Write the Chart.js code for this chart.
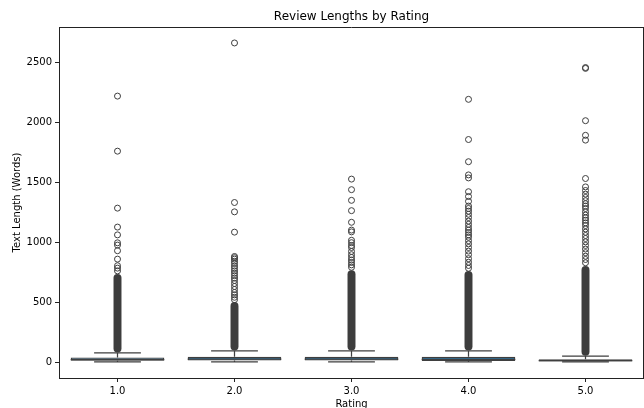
<!DOCTYPE html>
<html>
<head>
<meta charset="utf-8">
<script src="https://cdn.jsdelivr.net/npm/chart.js@4"></script>
<style>
html,body{margin:0;padding:0;overflow:hidden;background:#fff;}
#wrap{width:644px;height:408px;position:relative;}
canvas{display:block;}
</style>
</head>
<body>
<div id="wrap"><canvas id="c" width="644" height="408" style="width:644px;height:408px"></canvas></div>
<script>
// ---- data ----
const categories = ['1.0', '2.0', '3.0', '4.0', '5.0'];
const q1 = [10, 12, 12, 8, 5];
const median = [20, 24, 25, 22, 12];
const q3 = [38, 45, 45, 44, 23];
const whiskerLow = [1, 1, 1, 1, 1];
const whiskerHigh = [77, 94, 94, 94, 50];
// dense runs of overlapping outliers (drawn as a solid band)
const denseLow = [80, 97, 97, 97, 53];
const denseHigh = [735, 500, 765, 760, 800];
// individually visible outliers
const outliers1 = [2217, 1758, 1283, 1125, 1060, 994, 975, 928, 858, 803, 783, 760];
const outliers2 = [2660, 1330, 1252, 1083, 880, 870, 858, 840, 822, 800, 780, 760, 740, 720, 700, 680, 655, 630, 605, 580, 560, 540, 520];
const outliers3 = [1525, 1437, 1348, 1262, 1165, 1100, 1085, 1015, 995, 972, 955, 922, 895, 872, 850, 830, 810, 790];
const outliers4 = [2190, 1855, 1670, 1560, 1535, 1420, 1380, 1340, 1300, 1280, 1258, 1232, 1205, 1175, 1148, 1122, 1100, 1080, 1060, 1040, 1012, 985, 955, 925, 895, 862, 832, 805, 782];
const outliers5 = [2455, 2448, 2012, 1890, 1850, 1530, 1460, 1430, 1400, 1372, 1345, 1320, 1300, 1280, 1252, 1225, 1202, 1182, 1160, 1138, 1110, 1082, 1055, 1030, 1002, 972, 942, 912, 882, 855, 828];
const yTickValues = [0, 500, 1000, 1500, 2000, 2500];
const yTickLabels = ['0', '500', '1000', '1500', '2000', '2500'];
const yMin = -133, yMax = 2793;

const outlierSets = [outliers1, outliers2, outliers3, outliers4, outliers5];
const outlierPoints = [];
outlierSets.forEach((arr, i) => arr.forEach(v => outlierPoints.push({x: categories[i], y: v})));

const LINE = '#3f3f3f';
const FONT = "'DejaVu Sans', sans-serif";

const whiskerPlugin = {
  id: 'whiskers',
  beforeDatasetsDraw(chart) {
    const ctx = chart.ctx, xs = chart.scales.x, ys = chart.scales.y;
    const boxW = xs.width / categories.length * 0.8;
    ctx.save();
    ctx.strokeStyle = LINE;
    ctx.lineWidth = 1.25;
    categories.forEach((c, i) => {
      const cx = xs.getPixelForValue(i);
      const pLow = ys.getPixelForValue(whiskerLow[i]);
      const pHigh = ys.getPixelForValue(whiskerHigh[i]);
      const pq1 = ys.getPixelForValue(q1[i]);
      const pq3 = ys.getPixelForValue(q3[i]);
      ctx.beginPath();
      ctx.moveTo(cx, pq1); ctx.lineTo(cx, pLow);
      ctx.moveTo(cx, pq3); ctx.lineTo(cx, pHigh);
      ctx.moveTo(cx - boxW / 4, pLow); ctx.lineTo(cx + boxW / 4, pLow);
      ctx.moveTo(cx - boxW / 4, pHigh); ctx.lineTo(cx + boxW / 4, pHigh);
      ctx.stroke();
    });
    ctx.restore();
  },
  afterDatasetDraw(chart, args) {
    if (args.index !== 0) return;
    const ctx = chart.ctx, xs = chart.scales.x, ys = chart.scales.y;
    const boxW = xs.width / categories.length * 0.8;
    ctx.save();
    ctx.strokeStyle = LINE;
    ctx.lineWidth = 1.25;
    categories.forEach((c, i) => {
      const cx = xs.getPixelForValue(i);
      const pm = ys.getPixelForValue(median[i]);
      ctx.beginPath();
      ctx.moveTo(cx - boxW / 2, pm); ctx.lineTo(cx + boxW / 2, pm);
      ctx.stroke();
    });
    ctx.restore();
  },
  afterDraw(chart) {
    const ctx = chart.ctx, a = chart.chartArea;
    ctx.save();
    ctx.strokeStyle = '#222';
    ctx.lineWidth = 1;
    ctx.beginPath();
    ctx.moveTo(a.left, Math.round(a.top) + 0.5);
    ctx.lineTo(a.right, Math.round(a.top) + 0.5);
    ctx.moveTo(Math.round(a.right) - 0.5, a.top);
    ctx.lineTo(Math.round(a.right) - 0.5, a.bottom);
    ctx.stroke();
    ctx.restore();
  }
};

new Chart(document.getElementById('c'), {
  data: {
    labels: categories,
    datasets: [
      {
        type: 'bar',
        data: q1.map((v, i) => [v, q3[i]]),
        backgroundColor: '#3274a1',
        borderColor: LINE,
        borderWidth: 1.25,
        borderSkipped: false,
        barPercentage: 0.8,
        categoryPercentage: 1,
        grouped: false,
        order: 3
      },
      {
        type: 'bar',
        data: denseLow.map((v, i) => [v, denseHigh[i]]),
        backgroundColor: '#3d3d3d',
        borderWidth: 0,
        borderRadius: 4,
        borderSkipped: false,
        barPercentage: 0.068,
        categoryPercentage: 1,
        grouped: false,
        order: 2
      },
      {
        type: 'line',
        data: outlierPoints,
        showLine: false,
        pointStyle: 'circle',
        pointRadius: 3,
        pointBorderWidth: 1,
        pointBorderColor: '#3d3d3d',
        pointBackgroundColor: 'rgba(0,0,0,0)',
        order: 1
      }
    ]
  },
  options: {
    responsive: false,
    maintainAspectRatio: false,
    animation: false,
    devicePixelRatio: 1,
    layout: { autoPadding: false, padding: { left: 0, right: -1, top: 0, bottom: 0 } },
    plugins: {
      legend: { display: false },
      tooltip: { enabled: false },
      title: {
        display: true,
        text: 'Review Lengths by Rating',
        fullSize: false,
        color: '#000',
        font: { family: FONT, size: 12, weight: 'normal', lineHeight: 1.2 },
        padding: { top: 10, bottom: 2.6 }
      }
    },
    scales: {
      x: {
        type: 'category',
        offset: true,
        grid: { display: true, drawOnChartArea: false, drawTicks: true, tickLength: 4, tickColor: '#222', offset: false },
        border: { display: true, color: '#222', width: 1 },
        ticks: { color: '#000', font: { family: FONT, size: 10 }, padding: 3, maxRotation: 0 },
        title: { display: true, text: 'Rating', color: '#000', font: { family: FONT, size: 10, lineHeight: 1 }, padding: { top: 0, bottom: -1 } },
        afterFit(scale) { scale.height = 30; }
      },
      y: {
        type: 'linear',
        min: yMin,
        max: yMax,
        grid: { display: true, drawOnChartArea: false, drawTicks: true, tickLength: 4, tickColor: '#222' },
        border: { display: true, color: '#222', width: 1 },
        ticks: {
          color: '#000', font: { family: FONT, size: 10 }, padding: 3,
          callback(value) { const k = yTickValues.indexOf(value); return k >= 0 ? yTickLabels[k] : ''; }
        },
        afterBuildTicks(scale) { scale.ticks = yTickValues.map(v => ({ value: v })); },
        title: { display: true, text: 'Text Length (Words)', color: '#000', font: { family: FONT, size: 10, lineHeight: 1 }, padding: { top: 12, bottom: 0 } },
        afterFit(scale) { scale.width = 59; }
      }
    }
  },
  plugins: [whiskerPlugin]
});
</script>
</body>
</html>
